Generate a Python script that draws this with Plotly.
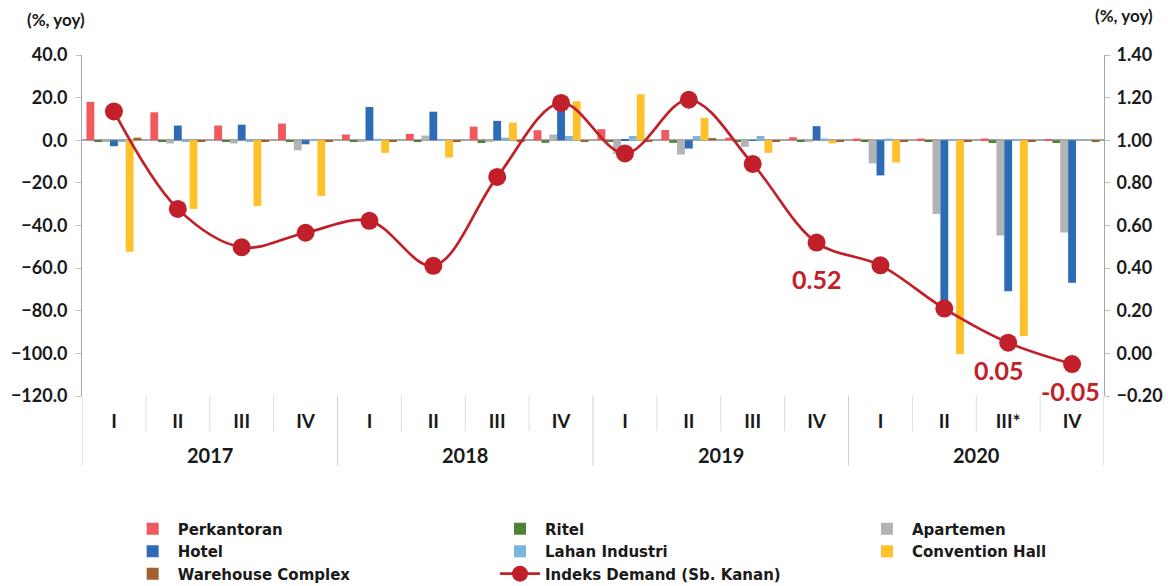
import plotly.graph_objects as go

years = ["2017"] * 4 + ["2018"] * 4 + ["2019"] * 4 + ["2020"] * 4
quarters = ["I", "II", "III", "IV", "I", "II", "III", "IV",
            "I", "II", "III", "IV", "I", "II", "III*", "IV"]
year_labels = ["2017", "2018", "2019", "2020"]

perkantoran = [18.0, 13.1, 6.9, 7.8, 2.7, 3.0, 6.4, 4.7, 5.2, 4.8, 1.2, 1.4, 0.8, 0.8, 0.8, 0.5]
ritel = [-0.6, -0.4, -0.5, -0.5, -0.6, -0.5, -1.3, -1.2, -0.8, -1.2, -0.4, -0.5, -0.4, -0.4, -1.3, -1.3]
apartemen = [-0.6, -1.5, -1.5, -4.7, -0.5, 2.2, -0.5, 2.7, -6.5, -6.7, -3.1, -0.5, -10.9, -34.6, -44.7, -43.3]
hotel = [-2.8, 6.9, 7.3, -1.9, 15.6, 13.4, 9.1, 17.0, 0.3, -3.9, -0.3, 6.6, -16.5, -78.0, -70.8, -66.9]
lahan = [-0.4, -0.5, -0.4, 0.5, 0.7, 0.6, 1.2, 2.0, 2.0, 2.0, 2.0, 0.8, 0.8, 0.4, 0.4, 0.4]
convention = [-52.3, -32.2, -30.9, -26.1, -5.9, -8.1, 8.3, 18.3, 21.6, 10.5, -5.9, -1.5, -10.4, -100.3, -91.9, 0.0]
warehouse = [1.2, -0.6, -0.5, -0.5, -0.6, -0.8, -0.5, -0.5, -0.6, 1.0, -0.6, -0.5, -0.5, -0.5, -0.5, -0.5]
indeks = [1.135, 0.678, 0.498, 0.566, 0.622, 0.411, 0.828, 1.175, 0.938, 1.19, 0.889, 0.52, 0.413, 0.21, 0.05, -0.05]
# indices of the index points that carry a value label, with label offsets (px)
labelled = {11: (0, -36), 14: (-10, -27), 15: (-2, -27)}

series = [
    ("Perkantoran", perkantoran, "#F05A5F", "legend"),
    ("Ritel", ritel, "#4E8237", "legend2"),
    ("Apartemen", apartemen, "#B2B3B5", "legend3"),
    ("Hotel", hotel, "#2E6BB5", "legend"),
    ("Lahan Industri", lahan, "#7DB5DA", "legend2"),
    ("Convention Hall", convention, "#FFC12A", "legend3"),
    ("Warehouse Complex", warehouse, "#A0622D", "legend"),
]

FONT = "Lato"
LEGFONT = "DejaVu Sans"
keys = [f"{y} {q}" for y, q in zip(years, quarters)]

fig = go.Figure()
for name, vals, col, leg in series:
    fig.add_trace(go.Bar(x=keys, y=vals, name=name, legend=leg,
                         marker=dict(color=col, line=dict(width=0)), yaxis="y"))

fig.add_trace(go.Scatter(
    x=keys, y=indeks, name="Indeks Demand (Sb. Kanan)", yaxis="y2", legend="legend2",
    mode="lines+markers",
    line=dict(color="#C1202A", width=2.7, shape="spline", smoothing=1.0),
    marker=dict(color="#C1202A", size=18),
))

annotations = [
    dict(text="(%, yoy)", xref="paper", yref="paper", x=-0.025, y=1.105,
         xanchor="center", yanchor="middle", showarrow=False,
         font=dict(family=FONT, size=17, weight="bold")),
    dict(text="(%, yoy)", xref="paper", yref="paper", x=1.02, y=1.115,
         xanchor="center", yanchor="middle", showarrow=False,
         font=dict(family=FONT, size=17, weight="bold")),
]
for i, (dx, dy) in labelled.items():
    annotations.append(dict(
        x=keys[i], y=indeks[i], xref="x", yref="y2", text=f"{indeks[i]:.2f}",
        showarrow=False, xshift=dx, yshift=dy, xanchor="center", yanchor="middle",
        font=dict(family=FONT, size=25, color="#C1202A", weight="bold")))

# year labels centred under each group of four quarters
for g, yl in enumerate(year_labels):
    annotations.append(dict(
        x=g * 4 + 1.5, y=-0.173, xref="x", yref="paper", text=yl, showarrow=False,
        xanchor="center", yanchor="middle",
        font=dict(family=FONT, size=20, weight="bold", color="#1a1a1a")))

shapes = []
n = len(keys)
for b in range(n + 1):
    pos = b - 0.5
    is_year = (b % 4 == 0)
    shapes.append(dict(type="line", xref="x", yref="paper", x0=pos, x1=pos,
                       y0=0, y1=-0.205 if is_year else -0.103,
                       line=dict(color="#CFCFCF" if is_year else "#DCDCDC", width=1)))

legend_common = dict(orientation="v", xref="container", yref="container",
                     xanchor="left", yanchor="top", itemwidth=40,
                     font=dict(family=LEGFONT, size=15, color="#1a1a1a", weight="bold"),
                     bgcolor="rgba(0,0,0,0)", tracegroupgap=0)

fig.update_layout(
    width=1168, height=586,
    margin=dict(l=82, r=64, t=55, b=190, autoexpand=False),
    paper_bgcolor="white", plot_bgcolor="white",
    barmode="group", bargap=0.14, bargroupgap=0,
    font=dict(family=FONT, size=17, color="#1a1a1a", weight="bold"),
    showlegend=True,
    legend=dict(x=0.1093, y=0.1255, **legend_common),
    legend2=dict(x=0.4238, y=0.1255, **legend_common),
    legend3=dict(x=0.738, y=0.1255, **legend_common),
    xaxis=dict(type="category", range=[-0.5, n - 0.5], tickvals=keys, ticktext=quarters,
               ticks="", showline=False, showgrid=False, zeroline=False,
               ticklabelstandoff=12,
               tickfont=dict(family=FONT, size=19, weight="bold", color="#1a1a1a")),
    yaxis=dict(range=[-120, 40], dtick=20, tickformat=".1f", showgrid=False,
               showline=True, linecolor="#A6A6A6", linewidth=1, ticks="outside",
               ticklen=5, tickcolor="#BFBFBF", zeroline=True, zerolinecolor="#A6A6A6",
               zerolinewidth=1.5, ticklabelstandoff=5,
               tickfont=dict(family=FONT, size=18, weight="bold")),
    yaxis2=dict(range=[-0.2, 1.4], dtick=0.2, tickformat=".2f", overlaying="y", side="right",
                showgrid=False, showline=True, linecolor="#A6A6A6", linewidth=1,
                ticks="outside", ticklen=5, tickcolor="#BFBFBF", zeroline=False,
                ticklabelstandoff=3,
                tickfont=dict(family=FONT, size=18, weight="bold")),
    annotations=annotations,
    shapes=shapes,
)

fig.write_html("out.html", config={"displayModeBar": False},
               post_script="document.body.style.margin='0px';")
